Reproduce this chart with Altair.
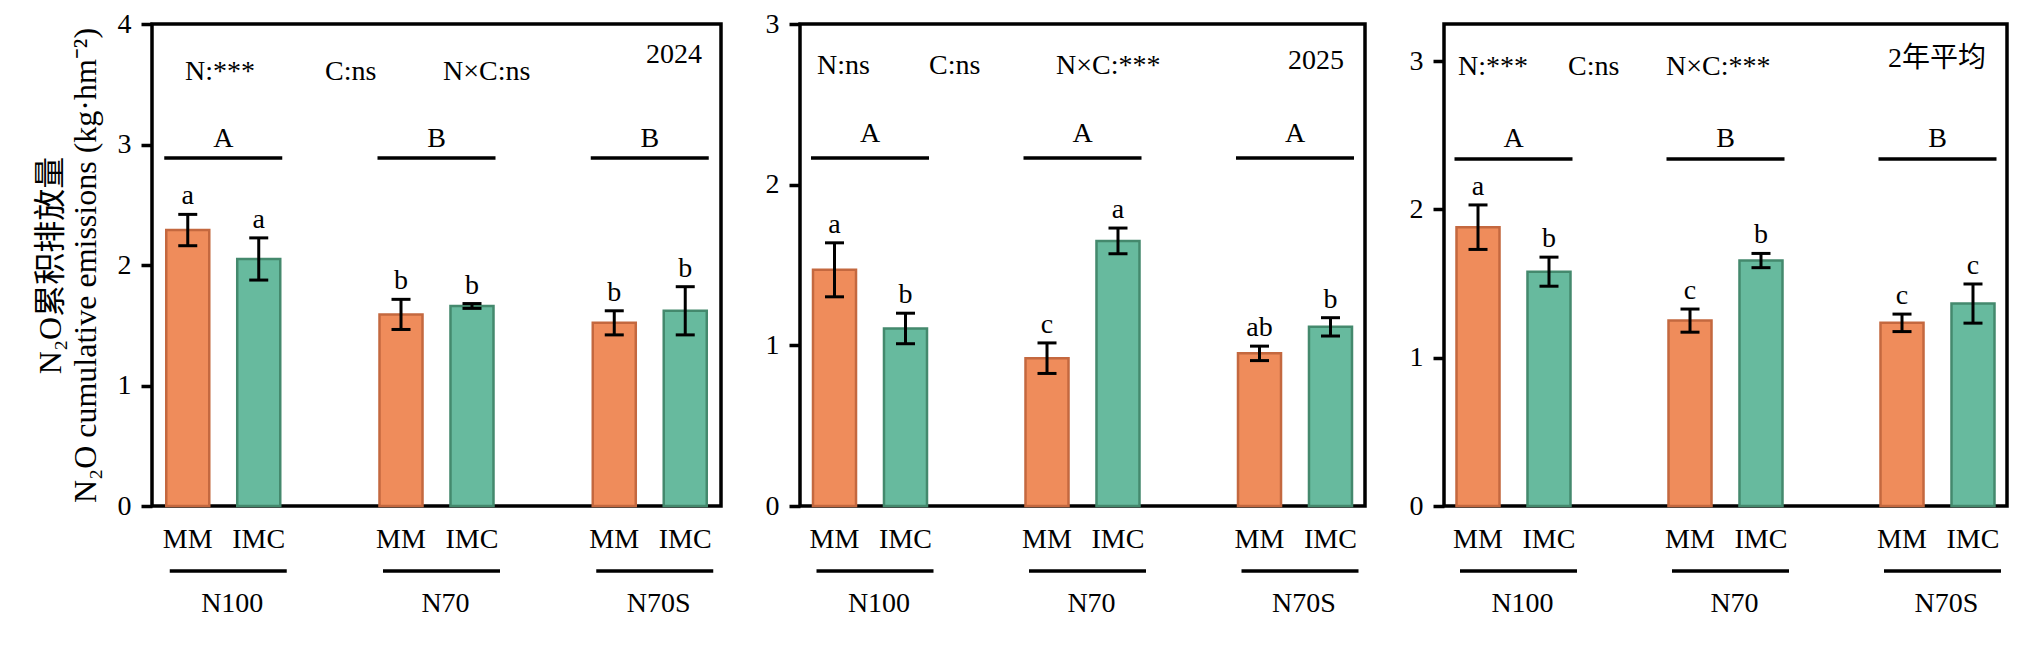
import altair as alt
import pandas as pd

# ---------------- data ----------------
groups = ["N100", "N70", "N70S"]
treatments = ["MM", "IMC"]

mean_2024_MM = [2.29, 1.59, 1.52]
mean_2024_IMC = [2.05, 1.66, 1.62]
se_2024_MM = [0.13, 0.125, 0.10]
se_2024_IMC = [0.175, 0.02, 0.20]
letters_2024_MM = ["a", "b", "b"]
letters_2024_IMC = ["a", "b", "b"]
group_letters_2024 = ["A", "B", "B"]
stats_2024 = ["N:***", "C:ns", "N×C:ns"]

mean_2025_MM = [1.47, 0.92, 0.95]
mean_2025_IMC = [1.105, 1.65, 1.115]
se_2025_MM = [0.168, 0.095, 0.045]
se_2025_IMC = [0.095, 0.08, 0.057]
letters_2025_MM = ["a", "c", "ab"]
letters_2025_IMC = ["b", "a", "b"]
group_letters_2025 = ["A", "A", "A"]
stats_2025 = ["N:ns", "C:ns", "N×C:***"]

mean_avg_MM = [1.88, 1.25, 1.235]
mean_avg_IMC = [1.58, 1.655, 1.365]
se_avg_MM = [0.15, 0.078, 0.059]
se_avg_IMC = [0.098, 0.048, 0.132]
letters_avg_MM = ["a", "c", "c"]
letters_avg_IMC = ["b", "b", "c"]
group_letters_avg = ["A", "B", "B"]
stats_avg = ["N:***", "C:ns", "N×C:***"]

panel_titles = ["2024", "2025", "2年平均"]
y_title = ["N₂O累积排放量", "N₂O cumulative emissions (kg·hm⁻²)"]

# ---------------- styling ----------------
FONT = "Liberation Serif, Noto Sans CJK SC, serif"
FS = 28
TFS = 32
C_MM, S_MM = "#EF8C5B", "#C4683F"
C_IMC, S_IMC = "#67BA9E", "#44896D"
H = 482


def make_df(mm, imc, smm, simc, lmm, limc):
    rows = []
    for i, g in enumerate(groups):
        rows.append({"group": g, "treatment": "MM", "mean": mm[i], "se": smm[i], "letter": lmm[i]})
        rows.append({"group": g, "treatment": "IMC", "mean": imc[i], "se": simc[i], "letter": limc[i]})
    return pd.DataFrame(rows)


def note(text, x, y, align="left"):
    return alt.Chart(pd.DataFrame({"t": [text]})).mark_text(
        font=FONT, fontSize=FS, align=align, baseline="alphabetic", color="black"
    ).encode(text="t:N", x=alt.value(x), y=alt.value(y))


def panel(df, glet, stats, title, spec):
    W = spec["width"]
    step = spec["step"]
    B = 114
    pi = 1 - B / step
    po = (W / step - 3 + pi) / 2
    xs = alt.Scale(domain=groups, paddingInner=pi, paddingOuter=po)
    xo = alt.Scale(domain=treatments, paddingInner=0.394, paddingOuter=0)
    ys = alt.Scale(domain=[0, spec["ymax"]], nice=False, zero=True)
    yaxis = alt.Axis(
        values=spec["ticks"], tickSize=11, tickWidth=3.5, tickColor="black",
        labelFont=FONT, labelFontSize=FS, labelColor="black", labelPadding=10,
        domain=False, grid=False, title=spec["ytitle"],
        titleFont=FONT, titleFontSize=TFS, titleFontWeight="normal", titleColor="black",
        titleLineHeight=35, titlePadding=15,
    )
    x = alt.X("group:N", scale=xs, axis=None, sort=groups)
    xoff = alt.XOffset("treatment:N", scale=xo, sort=treatments)

    base = alt.Chart(df)
    bars = base.mark_bar(strokeWidth=2.5).encode(
        x=x, xOffset=xoff,
        y=alt.Y("mean:Q", scale=ys, axis=yaxis),
        color=alt.Color("treatment:N", scale=alt.Scale(domain=treatments, range=[C_MM, C_IMC]), legend=None),
        stroke=alt.Stroke("treatment:N", scale=alt.Scale(domain=treatments, range=[S_MM, S_IMC]), legend=None),
    )
    err = base.transform_calculate(lo="datum.mean - datum.se", hi="datum.mean + datum.se")
    rule = err.mark_rule(color="black", strokeWidth=3).encode(
        x=x, xOffset=xoff, y=alt.Y("lo:Q", scale=ys, axis=yaxis), y2="hi:Q")
    cap_lo = err.mark_tick(color="black", orient="horizontal", size=19, thickness=3, opacity=1).encode(
        x=x, xOffset=xoff, y=alt.Y("lo:Q", scale=ys, axis=yaxis))
    cap_hi = err.mark_tick(color="black", orient="horizontal", size=19, thickness=3, opacity=1).encode(
        x=x, xOffset=xoff, y=alt.Y("hi:Q", scale=ys, axis=yaxis))
    letters = err.mark_text(font=FONT, fontSize=FS, baseline="alphabetic", dy=-10, color="black").encode(
        x=x, xOffset=xoff, y=alt.Y("hi:Q", scale=ys, axis=yaxis), text="letter:N")

    gdf = pd.DataFrame({"group": groups, "gl": glet})
    gbase = alt.Chart(gdf)
    gletters = gbase.mark_text(font=FONT, fontSize=FS, baseline="alphabetic", color="black").encode(
        x=x, y=alt.value(spec["letter_y"]), text="gl:N")
    bracket = gbase.mark_tick(orient="horizontal", size=118, thickness=3.5, color="black", opacity=1).encode(
        x=x, y=alt.value(spec["line_y"]))
    tlabels = base.mark_text(font=FONT, fontSize=FS, baseline="alphabetic", color="black").encode(
        x=x, xOffset=xoff, y=alt.value(H + 42), text="treatment:N")
    underline = gbase.mark_tick(orient="horizontal", size=117, thickness=3.5, color="black",
                                opacity=1, xOffset=5).encode(x=x, y=alt.value(H + 65))
    glabels = gbase.mark_text(font=FONT, fontSize=FS, baseline="alphabetic", color="black", dx=9).encode(
        x=x, y=alt.value(H + 106), text="group:N")

    notes = [note(stats[k], spec["stat_x"][k], spec["stat_y"]) for k in range(3)]
    notes.append(note(title, spec["title_x"], spec["title_y"], align="right"))

    return alt.layer(bars, rule, cap_lo, cap_hi, letters, gletters, bracket,
                     tlabels, underline, glabels, *notes).properties(width=W, height=H)


specs = [
    dict(width=569, step=213.25, ymax=4, ticks=[0, 1, 2, 3, 4], ytitle=y_title,
         letter_y=123, line_y=134, stat_x=[33, 173, 291], stat_y=56, title_x=550, title_y=39),
    dict(width=565, step=212.5, ymax=3, ticks=[0, 1, 2, 3], ytitle="",
         letter_y=118, line_y=134, stat_x=[17, 129, 256], stat_y=50, title_x=544, title_y=45),
    dict(width=563, step=212.0, ymax=3.25, ticks=[0, 1, 2, 3], ytitle="",
         letter_y=123, line_y=135, stat_x=[14, 124, 222], stat_y=51, title_x=542, title_y=43),
]

dfs = [
    make_df(mean_2024_MM, mean_2024_IMC, se_2024_MM, se_2024_IMC, letters_2024_MM, letters_2024_IMC),
    make_df(mean_2025_MM, mean_2025_IMC, se_2025_MM, se_2025_IMC, letters_2025_MM, letters_2025_IMC),
    make_df(mean_avg_MM, mean_avg_IMC, se_avg_MM, se_avg_IMC, letters_avg_MM, letters_avg_IMC),
]
glets = [group_letters_2024, group_letters_2025, group_letters_avg]
stats = [stats_2024, stats_2025, stats_avg]

panels = [panel(dfs[i], glets[i], stats[i], panel_titles[i], specs[i]) for i in range(3)]

chart = alt.hconcat(*panels, spacing=40).properties(
    padding={"left": 24, "top": 0, "right": 5, "bottom": 5}
).configure_view(stroke="black", strokeWidth=3.5)

chart.save("out.html", embed_options={"renderer": "svg", "actions": False})
